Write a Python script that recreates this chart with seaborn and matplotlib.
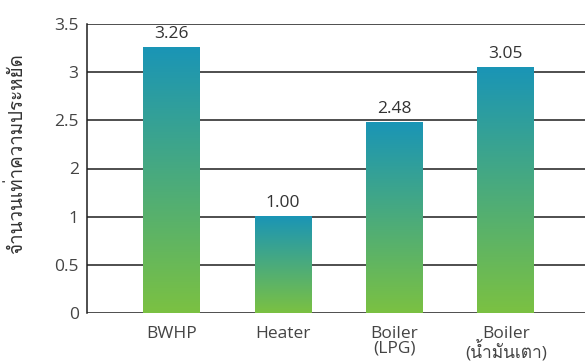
import numpy as np
import pandas as pd
import matplotlib
matplotlib.use("Agg")
import matplotlib.pyplot as plt
import seaborn as sns
from matplotlib import font_manager
from matplotlib.ft2font import FT2Font

# data
categories = ["BWHP", "Heater", "Boiler\n(LPG)", "Boiler\n(น้ำมันเตา)"]
values = [3.26, 1.00, 2.48, 3.05]
value_labels = ["3.26", "1.00", "2.48", "3.05"]
ytick_values = [0, 0.5, 1, 2, 2.5, 3, 3.5]
ytick_labels = ["0", "0.5", "1", "2", "2.5", "3", "3.5"]
ylabel = "จำนวนเท่าความประหยัด"

df = pd.DataFrame({"Sistema": categories, "Valor": values})

# buscar una fuente con glifos tailandeses
thai_fonts = []
for f in font_manager.fontManager.ttflist:
    try:
        if 0x0E08 in FT2Font(f.fname).get_charmap() and f.name not in thai_fonts:
            thai_fonts.append(f.name)
    except Exception:
        pass

sns.set_theme(style="white")
plt.rcParams["font.family"] = ["Open Sans"] + thai_fonts + ["DejaVu Sans"]

fig = plt.figure(figsize=(5.85, 3.62), dpi=100)
ax = fig.add_axes([87 / 585, 1 - 313 / 362, 1 - 87 / 585, (313 - 24) / 362])

sns.barplot(data=df, x="Sistema", y="Valor", color="#4aa58c", width=0.51, ax=ax)


# eje y con tramo comprimido entre 1 y 2 (como en la figura original)
def fwd(v):
    v = np.asarray(v, dtype=float)
    return np.where(v <= 1, v, np.where(v <= 2, 1 + (v - 1) * 0.5, v - 0.5))


def inv(d):
    d = np.asarray(d, dtype=float)
    return np.where(d <= 1, d, np.where(d <= 1.5, 1 + (d - 1) * 2, d + 0.5))


ax.set_yscale("function", functions=(fwd, inv))
ax.set_ylim(0, 3.5)
ax.set_xlim(-0.76, 3.71)
ax.set_yticks(ytick_values)
ax.set_yticklabels(ytick_labels)
ax.yaxis.grid(True, color="#1e1e1e", linewidth=1.1)
ax.set_axisbelow(True)

for s in ["top", "right", "bottom"]:
    ax.spines[s].set_visible(False)
ax.spines["left"].set_color("#1e1e1e")
ax.spines["left"].set_linewidth(1.1)

ax.tick_params(axis="y", length=0, pad=6, labelsize=12.5, labelcolor="#444444")
ax.tick_params(axis="x", length=0, pad=9, labelsize=12.5, labelcolor="#444444")
for lab in ax.get_xticklabels():
    lab.set_linespacing(0.9)
ax.set_xlabel("")
ax.set_ylabel("")

# degradado en cada barra
cmap = matplotlib.colors.LinearSegmentedColormap.from_list("g", ["#7bc142", "#1a95b6"])
grad = np.linspace(0, 1, 256).reshape(-1, 1)
to_axes = ax.transAxes.inverted()
ax.set_autoscale_on(False)
for p in ax.patches:
    bb = p.get_window_extent()
    (x0, y0), (x1, y1) = to_axes.transform([[bb.x0, bb.y0], [bb.x1, bb.y1]])
    ax.imshow(grad, cmap=cmap, origin="lower", aspect="auto", extent=[x0, x1, y0, y1],
              transform=ax.transAxes, zorder=3, interpolation="bilinear")
    p.set_visible(False)

ax.bar_label(ax.containers[0], labels=value_labels, padding=4, fontsize=12.5, color="#333333")

fig.text(0.028, 0.575, ylabel, rotation=90, ha="center", va="center", fontsize=13.5, color="#333333")

plt.savefig("out.png", dpi=100)
